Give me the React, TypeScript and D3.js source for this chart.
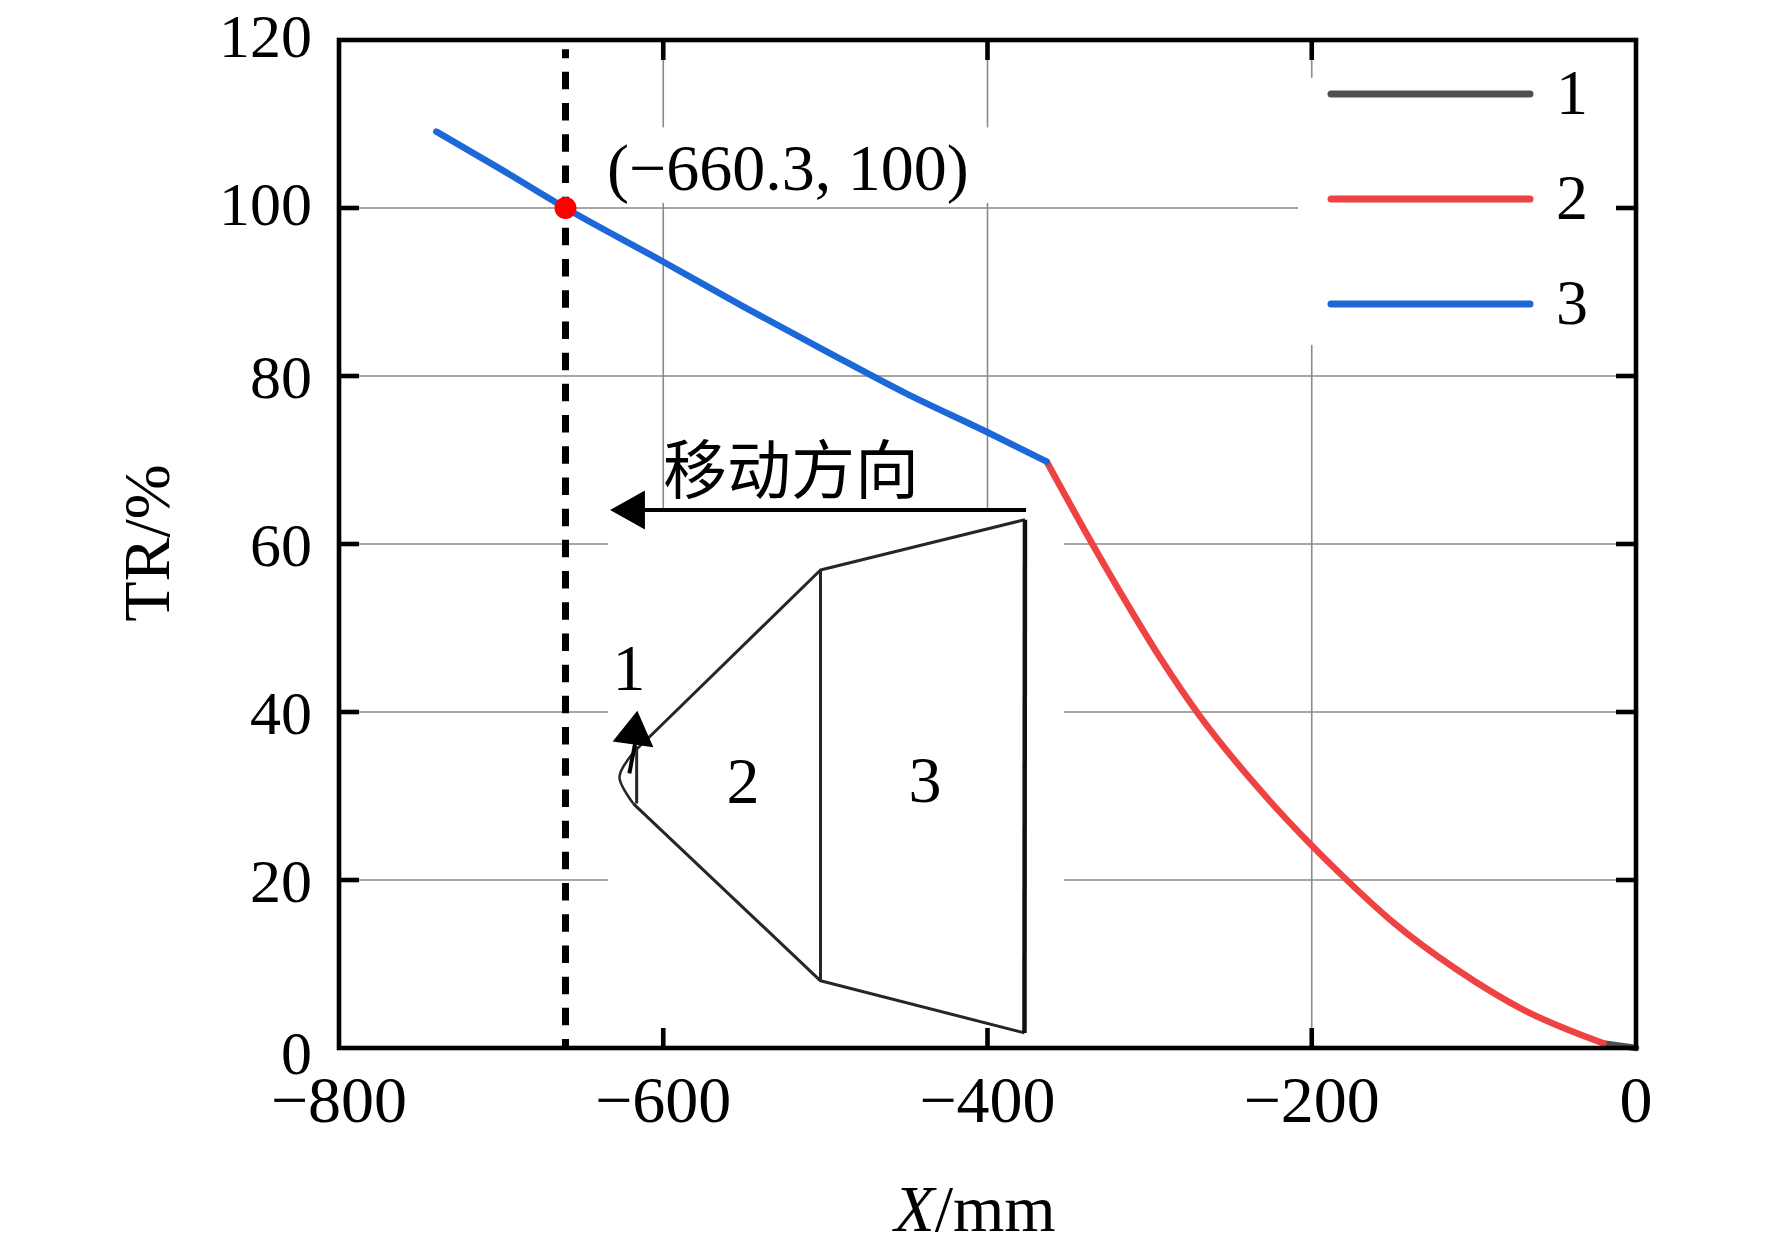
import { useEffect, useRef } from "react";
import * as d3 from "d3";

type Pt = [number, number];

const xTicks = [-800, -600, -400, -200, 0];
const yTicks = [0, 20, 40, 60, 80, 100, 120];

// curves (X/mm, TR/%)
const series1: Pt[] = [[-20, 0.55], [0, 0]];
const series2: Pt[] = [
  [-363.5, 69.8], [-340, 61.6], [-317, 53.9], [-293, 46.3], [-269, 39.5],
  [-235, 31.4], [-200, 24.1], [-180, 20.3], [-150, 15.0], [-111, 9.4],
  [-70, 4.6], [-20, 0.55],
];
const series3: Pt[] = [
  [-740, 109.1], [-700, 104.6], [-660.3, 100], [-600, 93.6], [-550, 88.2],
  [-500, 83.0], [-450, 77.9], [-400, 73.3], [-363.5, 69.8],
];

const legendLabels = ["1", "2", "3"];
const seriesColors = ["#505050", "#ef4343", "#1c68d8"];

const markerPoint: Pt = [-660.3, 100];
const markerLabel = "(−660.3, 100)";
const directionLabel = "移动方向";

// sketch of the part (sections 1, 2, 3), in chart units
const insetEdges: Pt[][] = [
  [[-609.2, 36.9], [-503.0, 56.9], [-376.9, 62.9]],
  [[-618.5, 29.1], [-503.0, 8.0], [-377.2, 1.8]],
  [[-503.0, 56.9], [-503.0, 8.0]],
  [[-616.4, 35.9], [-616.4, 29.1]],
];
const insetRightEdge: Pt[] = [[-376.9, 62.9], [-377.2, 1.8]];
const insetNose: Pt[] = [[-609.2, 36.9], [-621.5, 34.4], [-627.0, 32.2], [-618.5, 29.1]];
const insetArrowShaft: Pt[] = [[-620.9, 32.7], [-617.4, 36.2]];
const insetArrowHead: Pt[] = [[-616.0, 40.15], [-631.2, 36.5], [-606.1, 35.8]];
const insetLabels: { text: string; at: Pt }[] = [
  { text: "1", at: [-621.1, 42.6] },
  { text: "2", at: [-550.8, 29.2] },
  { text: "3", at: [-438.6, 29.3] },
];

const moveArrowY = 64.05;
const moveArrowX: [number, number] = [-376.2, -611.3];
const moveArrowTip = -632.8;

const App: React.FC = () => {
  const svgRef = useRef<SVGSVGElement>(null);

  useEffect(() => {
    const svg = d3.select(svgRef.current);
    svg.selectAll("*").remove();

    const x = d3.scaleLinear().domain([-800, 0]).range([339, 1636]);
    const y = d3.scaleLinear().domain([0, 120]).range([1048, 40]);
    const serif = '"Liberation Serif", "Times New Roman", serif';

    const line = d3
      .line<Pt>()
      .x((d) => x(d[0]))
      .y((d) => y(d[1]));
    const smooth = d3
      .line<Pt>()
      .x((d) => x(d[0]))
      .y((d) => y(d[1]))
      .curve(d3.curveMonotoneX);

    svg.append("rect").attr("width", 1772).attr("height", 1245).attr("fill", "#fff");

    // grid
    const grid = svg.append("g").attr("stroke", "#8a8a8a").attr("stroke-width", 1.6);
    grid
      .selectAll("line.gx")
      .data(xTicks.slice(1, -1))
      .enter()
      .append("line")
      .attr("x1", (d) => x(d))
      .attr("x2", (d) => x(d))
      .attr("y1", y(120))
      .attr("y2", y(0));
    grid
      .selectAll("line.gy")
      .data(yTicks.slice(1, -1))
      .enter()
      .append("line")
      .attr("x1", x(-800))
      .attr("x2", x(0))
      .attr("y1", (d) => y(d))
      .attr("y2", (d) => y(d));

    // white backgrounds of the label, legend and sketch
    const boxes = [
      [-637.2, -397.2, 109.6, 100.6],
      [-208.5, -2.5, 115.5, 83.7],
      [-634.1, -352.8, 64.3, 0.3],
    ];
    svg
      .append("g")
      .selectAll("rect")
      .data(boxes)
      .enter()
      .append("rect")
      .attr("x", (d) => x(d[0]))
      .attr("width", (d) => x(d[1]) - x(d[0]))
      .attr("y", (d) => y(d[2]))
      .attr("height", (d) => y(d[3]) - y(d[2]))
      .attr("fill", "#fff");

    // sketch
    const sketch = svg.append("g").attr("fill", "none").attr("stroke", "#262626");
    sketch
      .selectAll("path.edge")
      .data(insetEdges)
      .enter()
      .append("path")
      .attr("d", (d) => line(d))
      .attr("stroke-width", 3)
      .attr("stroke-linejoin", "round");
    sketch
      .append("path")
      .attr("d", line(insetRightEdge))
      .attr("stroke", "#111")
      .attr("stroke-width", 4.5);
    sketch
      .append("path")
      .attr("d", line.curve(d3.curveCatmullRom)(insetNose))
      .attr("stroke-width", 2.5);
    line.curve(d3.curveLinear);
    sketch
      .append("path")
      .attr("d", line(insetArrowShaft))
      .attr("stroke", "#000")
      .attr("stroke-width", 4);
    svg
      .append("path")
      .attr("d", line(insetArrowHead) + "Z")
      .attr("fill", "#000");
    svg
      .append("g")
      .selectAll("text")
      .data(insetLabels)
      .enter()
      .append("text")
      .attr("x", (d) => x(d.at[0]))
      .attr("y", (d) => y(d.at[1]))
      .attr("text-anchor", "middle")
      .attr("font-family", serif)
      .attr("font-size", 66)
      .text((d) => d.text);

    // moving direction arrow
    svg
      .append("line")
      .attr("x1", x(moveArrowX[0]))
      .attr("x2", x(moveArrowX[1]))
      .attr("y1", y(moveArrowY))
      .attr("y2", y(moveArrowY))
      .attr("stroke", "#000")
      .attr("stroke-width", 4.2);
    const ay = y(moveArrowY);
    svg
      .append("path")
      .attr(
        "d",
        `M${x(moveArrowTip)},${ay}L${x(moveArrowX[1])},${ay - 19.6}L${x(moveArrowX[1])},${ay + 19.6}Z`
      )
      .attr("fill", "#000");
    svg
      .append("text")
      .attr("x", x(-600.2))
      .attr("y", y(69.4))
      .attr("dominant-baseline", "central")
      .attr("font-family", '"Noto Sans CJK SC", sans-serif')
      .attr("font-size", 64)
      .text(directionLabel);

    // curves
    const seriesData = [series1, series2, series3];
    svg
      .append("g")
      .attr("fill", "none")
      .attr("stroke-width", 6.5)
      .attr("stroke-linecap", "round")
      .attr("stroke-linejoin", "round")
      .selectAll("path")
      .data(seriesData)
      .enter()
      .append("path")
      .attr("d", (d) => smooth(d))
      .attr("stroke", (_, i) => seriesColors[i]);

    // dashed marker line and point
    svg
      .append("line")
      .attr("x1", x(markerPoint[0]))
      .attr("x2", x(markerPoint[0]))
      .attr("y1", y(118.9))
      .attr("y2", y(0))
      .attr("stroke", "#000")
      .attr("stroke-width", 7)
      .attr("stroke-dasharray", "17.5 13.7")
      .attr("stroke-dashoffset", 8.6);
    svg
      .append("circle")
      .attr("cx", x(markerPoint[0]))
      .attr("cy", y(markerPoint[1]))
      .attr("r", 11)
      .attr("fill", "#ff0000");
    svg
      .append("text")
      .attr("x", x(-634.7))
      .attr("y", y(102.1))
      .attr("font-family", serif)
      .attr("font-size", 66)
      .text(markerLabel);

    // legend
    const legend = svg
      .append("g")
      .selectAll("g")
      .data(legendLabels)
      .enter()
      .append("g")
      .attr("transform", (_, i) => `translate(0, ${94 + i * 105})`);
    legend
      .append("line")
      .attr("x1", 1331)
      .attr("x2", 1530)
      .attr("stroke", (_, i) => seriesColors[i])
      .attr("stroke-width", 7)
      .attr("stroke-linecap", "round");
    legend
      .append("text")
      .attr("x", 1556)
      .attr("y", 20)
      .attr("font-family", serif)
      .attr("font-size", 64)
      .text((d) => d);

    // frame and inward ticks
    const axes = svg.append("g").attr("stroke", "#000").attr("stroke-width", 4.6);
    axes
      .append("rect")
      .attr("x", x(-800))
      .attr("y", y(120))
      .attr("width", x(0) - x(-800))
      .attr("height", y(0) - y(120))
      .attr("fill", "none");
    const tickLen = 20;
    xTicks.slice(1, -1).forEach((t) => {
      axes.append("line").attr("x1", x(t)).attr("x2", x(t)).attr("y1", y(0)).attr("y2", y(0) - tickLen);
      axes.append("line").attr("x1", x(t)).attr("x2", x(t)).attr("y1", y(120)).attr("y2", y(120) + tickLen);
    });
    yTicks.slice(1, -1).forEach((t) => {
      axes.append("line").attr("x1", x(-800)).attr("x2", x(-800) + tickLen).attr("y1", y(t)).attr("y2", y(t));
      axes.append("line").attr("x1", x(0)).attr("x2", x(0) - tickLen).attr("y1", y(t)).attr("y2", y(t));
    });

    // tick labels
    const fmt = (v: number) => (v < 0 ? "−" + Math.abs(v) : String(v));
    svg
      .append("g")
      .selectAll("text")
      .data(yTicks)
      .enter()
      .append("text")
      .attr("x", 312)
      .attr("y", (d) => y(d) + (d === 0 ? 4 : d >= 100 ? -5 : 0))
      .attr("dy", "0.35em")
      .attr("text-anchor", "end")
      .attr("font-family", serif)
      .attr("font-size", 62)
      .text((d) => fmt(d));
    svg
      .append("g")
      .selectAll("text")
      .data(xTicks)
      .enter()
      .append("text")
      .attr("x", (d) => x(d))
      .attr("y", 1122)
      .attr("text-anchor", "middle")
      .attr("font-family", serif)
      .attr("font-size", 66)
      .text((d) => fmt(d));

    // axis titles
    const xt = svg
      .append("text")
      .attr("x", 975)
      .attr("y", 1231)
      .attr("text-anchor", "middle")
      .attr("font-family", serif)
      .attr("font-size", 66);
    xt.append("tspan").attr("font-style", "italic").text("X");
    xt.append("tspan").text("/mm");
    svg
      .append("text")
      .attr("transform", "translate(169, 543) rotate(-90)")
      .attr("text-anchor", "middle")
      .attr("font-family", serif)
      .attr("font-size", 66)
      .text("TR/%");
  }, []);

  return (
    <svg
      ref={svgRef}
      width={1772}
      height={1245}
      style={{ position: "absolute", left: 0, top: 0, display: "block" }}
    ></svg>
  );
};

export default App;
